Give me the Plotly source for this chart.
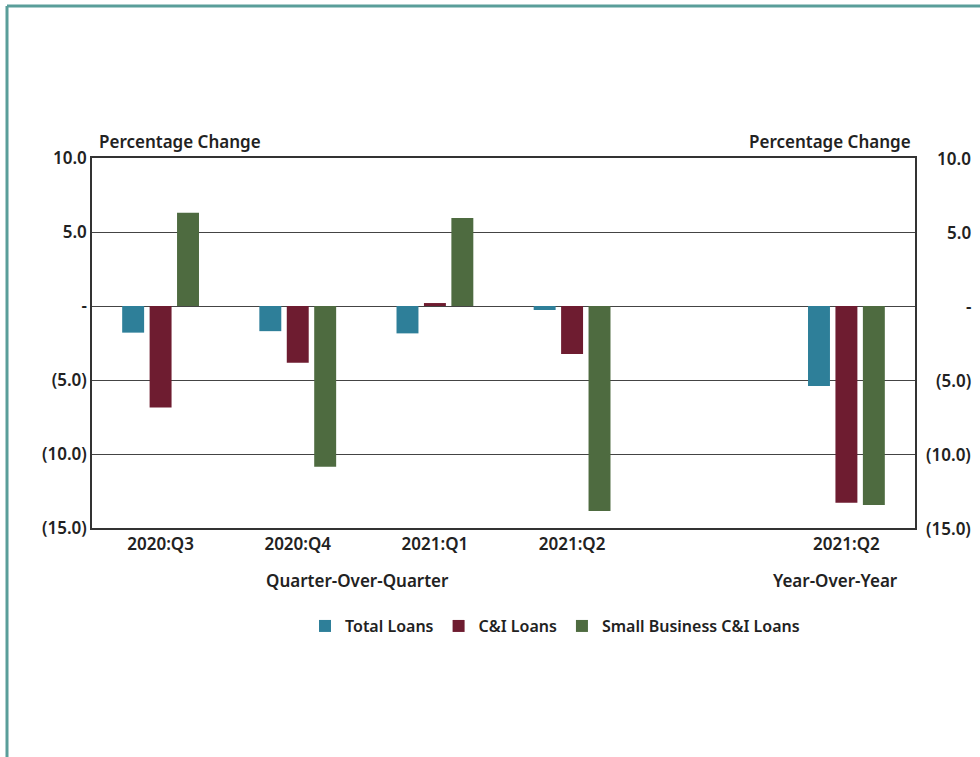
import plotly.graph_objects as go

categories = ["2020:Q3", "2020:Q4", "2021:Q1", "2021:Q2", "2021:Q2"]
positions = [0, 1, 2, 3, 5]
total_loans = [-1.8, -1.7, -1.85, -0.27, -5.4]
ci_loans = [-6.85, -3.83, 0.2, -3.24, -13.3]
small_biz_ci = [6.3, -10.86, 5.95, -13.85, -13.45]
y_tickvals = [10, 5, 0, -5, -10, -15]
y_ticktext = ["10.0", "5.0", "-", "(5.0)", "(10.0)", "(15.0)"]

FONT = "Noto Sans"
TXT = "#222222"
fnt = dict(family=FONT, size=17, color=TXT, weight=600)
lfnt = dict(family=FONT, size=16, color=TXT, weight=600)

fig = go.Figure()
for name, vals, col in [
    ("Total Loans", total_loans, "#2E7F99"),
    ("C&I Loans", ci_loans, "#6E1C30"),
    ("Small Business C&I Loans", small_biz_ci, "#4E6B40"),
]:
    fig.add_trace(go.Bar(x=positions, y=vals, name=name, marker=dict(color=col, line=dict(width=0))))

fig.update_layout(
    width=980, height=757,
    margin=dict(l=92, r=65, t=158, b=229),
    paper_bgcolor="white", plot_bgcolor="white",
    barmode="group", bargap=0.4, bargroupgap=0.2,
    font=fnt,
    showlegend=True,
    legend=dict(orientation="h", x=0.5626, xanchor="center", y=-0.265, yanchor="middle",
                font=lfnt, itemwidth=30, traceorder="normal"),
    xaxis=dict(range=[-0.5, 5.5], tickvals=positions, ticktext=categories,
               showgrid=False, zeroline=False, showline=True, linecolor="#333", linewidth=1.5,
               mirror=True, ticks="", tickfont=fnt),
    yaxis=dict(range=[-15, 10], tickvals=y_tickvals, ticktext=y_ticktext,
               showgrid=True, gridcolor="#444", gridwidth=1, zeroline=True, zerolinecolor="#444",
               zerolinewidth=1, showline=True, linecolor="#333", linewidth=1.5, mirror=True,
               ticks="", tickfont=fnt),
)

annotations = [
    dict(text="Percentage Change", x=(97 - 92) / 823, y=(528 - 141) / 370, xanchor="left", yanchor="middle"),
    dict(text="Percentage Change", x=(913 - 92) / 823, y=(528 - 141) / 370, xanchor="right", yanchor="middle"),
    dict(text="Quarter-Over-Quarter", x=(357 - 92) / 823, y=(528 - 580) / 370, xanchor="center", yanchor="middle"),
    dict(text="Year-Over-Year", x=(835 - 92) / 823, y=(528 - 580) / 370, xanchor="center", yanchor="middle"),
]
for a in annotations:
    a.update(xref="paper", yref="paper", showarrow=False, font=fnt)
    fig.add_annotation(**a)
for v, t in zip(y_tickvals, y_ticktext):
    fig.add_annotation(text=t, x=(973 - 92) / 823, y=v, xref="paper", yref="y",
                       xanchor="right", yanchor="middle", showarrow=False, font=fnt)

# teal frame (top and left edges)
x0 = (7 - 92) / 823
x1 = (980 - 92) / 823
ytop = (528 - 6) / 370
ybot = (528 - 760) / 370
fig.add_shape(type="line", xref="paper", yref="paper", x0=x0, x1=x1, y0=ytop, y1=ytop,
              line=dict(color="#5A9E9A", width=3))
fig.add_shape(type="line", xref="paper", yref="paper", x0=x0, x1=x0, y0=ybot, y1=ytop,
              line=dict(color="#5A9E9A", width=3))

fig.write_html("out.html", config={"displayModeBar": False},
               post_script="document.body.style.margin='0';document.body.style.overflow='hidden';")
